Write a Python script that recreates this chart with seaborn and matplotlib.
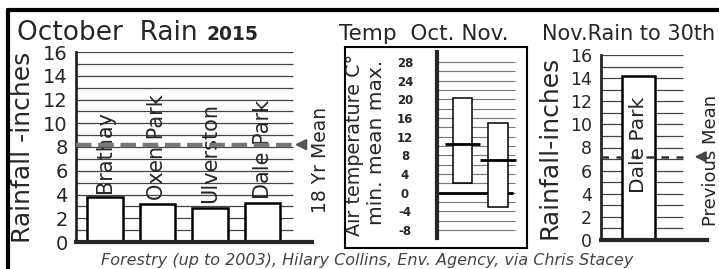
import numpy as np
import matplotlib
matplotlib.use("Agg")
import matplotlib.pyplot as plt
from matplotlib.lines import Line2D
import seaborn as sns

# October rain 2015, inches
oct_sites = ["Brathay", "Oxen Park", "Ulverston", "Dale Park"]
oct_rain = [3.8, 3.2, 2.9, 3.3]
oct_mean_18yr = 8.2

# air temperature C, Oct / Nov
temp_months = ["Oct", "Nov"]
temp_min = [2.1, -3.0]
temp_mean = [10.5, 6.9]
temp_max = [20.3, 15.0]

# November rain to 30th, inches
nov_sites = ["Dale Park"]
nov_rain = [14.2]
nov_prev_mean = 7.2

rain_ticks = list(range(0, 17, 2))
temp_ticks = [28, 24, 20, 16, 12, 8, 4, 0, -4, -8]

W, H = 719, 269

sns.set_style("white")
plt.rcParams["font.family"] = ["DejaVu Sans"]


def fx(x):
    return x / W


def fy(y):
    return 1 - y / H


def px_axes(fig, x0, y0, x1, y1):
    return fig.add_axes([fx(x0), fy(y1), (x1 - x0) / W, (y1 - y0) / H])


fig = plt.figure(figsize=(W / 100, H / 100), dpi=100)

# outer frame
fig.add_artist(Line2D([fx(8), fx(8)], [fy(10), fy(275)], color="black", lw=3))
fig.add_artist(Line2D([fx(8), fx(725)], [fy(10), fy(10)], color="black", lw=3))

# ---- October rain ----
ax1 = px_axes(fig, 76, 52, 312, 242)
sns.barplot(x=oct_sites, y=oct_rain, ax=ax1, color="white", saturation=1,
            edgecolor="black", linewidth=1.8, width=0.67, zorder=2)
ax1.set_xlim(-0.55, 3.94)
ax1.set_ylim(0, 16)
ax1.hlines(np.arange(1, 17), -0.55, 3.58, colors="#444444", lw=0.9, zorder=0.5)
ax1.hlines(oct_mean_18yr, -0.55, 3.58, colors="#777777", lw=3.2,
           linestyles=(0, (3.5, 1.5)), zorder=4)
ax1.annotate("", xy=(3.56, oct_mean_18yr), xytext=(3.82, oct_mean_18yr),
             arrowprops=dict(arrowstyle="-|>", color="#555555", lw=1.6,
                             mutation_scale=16), zorder=4)
for i, (site, val) in enumerate(zip(oct_sites, oct_rain)):
    ax1.text(i, val + 0.35, site, rotation=90, ha="center", va="bottom",
             fontsize=15, zorder=3)
ax1.text(4.1, 6.9, "18 Yr Mean", rotation=90, ha="center", va="center",
         fontsize=13.5, clip_on=False)
ax1.set_yticks(rain_ticks)
ax1.set_yticklabels([str(t) for t in rain_ticks], fontsize=14)
ax1.tick_params(axis="y", length=0, pad=6)
ax1.set_xticks([])
ax1.set_xlabel("")
ax1.set_ylabel("Rainfall -inches", fontsize=18)
ax1.yaxis.set_label_coords(-0.174, 0.5)
sns.despine(ax=ax1)
ax1.spines["left"].set_linewidth(2)
ax1.spines["bottom"].set_linewidth(3)
ax1.patch.set_alpha(0)

fig.text(fx(17), fy(40), "October  Rain", fontsize=19, ha="left", va="baseline")
fig.text(fx(207), fy(40), "2015", fontsize=13.5, fontweight="bold",
         ha="left", va="baseline")

# ---- Temperature ----
frame = px_axes(fig, 345, 47, 527, 248)
frame.set_xticks([])
frame.set_yticks([])
for sp in frame.spines.values():
    sp.set_linewidth(1.5)
    sp.set_color("black")

ax2 = px_axes(fig, 437, 52, 520, 238)
ax2.set_xlim(-0.72, 1.62)
ax2.set_ylim(-9.71, 30.14)
ax2.hlines(np.arange(-8, 29, 2), -0.72, 1.48, colors="#777777", lw=0.8, zorder=0.5)
ax2.hlines(0, -0.72, 1.42, colors="black", lw=2, zorder=0.8)
xs = np.arange(len(temp_months))
ax2.bar(xs, np.array(temp_max) - np.array(temp_min), bottom=temp_min, width=0.54,
        color="white", edgecolor="black", lw=1.1, zorder=2)
ax2.hlines(temp_mean, xs - 0.5, xs + 0.5, colors="black", lw=2, zorder=3)
ax2.set_yticks(temp_ticks)
ax2.set_yticklabels([str(t) for t in temp_ticks], fontsize=8.5,
                    fontweight="bold", ha="center")
ax2.tick_params(axis="y", length=0, pad=23)
ax2.set_xticks([])
sns.despine(ax=ax2, bottom=True)
ax2.spines["left"].set_linewidth(3)
ax2.patch.set_alpha(0)

fig.text(fx(355), fy(145), "Air temperature C°", rotation=90, fontsize=13.8,
         ha="center", va="center")
fig.text(fx(377), fy(142), "min. mean max.", rotation=90, fontsize=14.5,
         ha="center", va="center")
fig.text(fx(339), fy(40), "Temp  Oct. Nov.", fontsize=15.5, ha="left", va="baseline")

# ---- November rain ----
ax3 = px_axes(fig, 601, 55, 707, 240)
sns.barplot(x=nov_sites, y=nov_rain, ax=ax3, color="white", saturation=1,
            edgecolor="black", linewidth=1.8, width=0.6, zorder=2)
ax3.set_xlim(-0.68, 1.245)
ax3.set_ylim(0, 16)
ax3.hlines(np.arange(1, 17), -0.68, 0.81, colors="#444444", lw=0.9, zorder=0.5)
ax3.hlines(nov_prev_mean, -0.68, 0.81, colors="#333333", lw=1.8,
           linestyles=(0, (3, 3)), zorder=4)
ax3.annotate("", xy=(0.97, nov_prev_mean), xytext=(1.2, nov_prev_mean),
             arrowprops=dict(arrowstyle="-|>", color="#444444", lw=1.4,
                             mutation_scale=16), zorder=4)
ax3.text(0, 8.2, nov_sites[0], rotation=90, ha="center", va="center",
         fontsize=14.5, zorder=3)
ax3.text(1.31, 6.9, "Previous Mean", rotation=90, ha="center", va="center",
         fontsize=13, clip_on=False)
ax3.set_yticks(rain_ticks)
ax3.set_yticklabels([str(t) for t in rain_ticks], fontsize=12.5)
ax3.tick_params(axis="y", length=0, pad=6.5)
ax3.set_xticks([])
ax3.set_xlabel("")
ax3.set_ylabel("Rainfall-inches", fontsize=18)
ax3.yaxis.set_label_coords(-0.368, 0.5)
sns.despine(ax=ax3)
ax3.spines["left"].set_linewidth(2)
ax3.spines["bottom"].set_linewidth(3)
ax3.patch.set_alpha(0)

fig.text(fx(542), fy(40), "Nov.Rain to 30th", fontsize=15, ha="left", va="baseline")

fig.text(fx(367), fy(265), "Forestry (up to 2003), Hilary Collins, Env. Agency, via Chris Stacey",
         fontsize=11.5, style="italic", color="#444444", ha="center", va="baseline")

fig.savefig("out.png", dpi=100)
